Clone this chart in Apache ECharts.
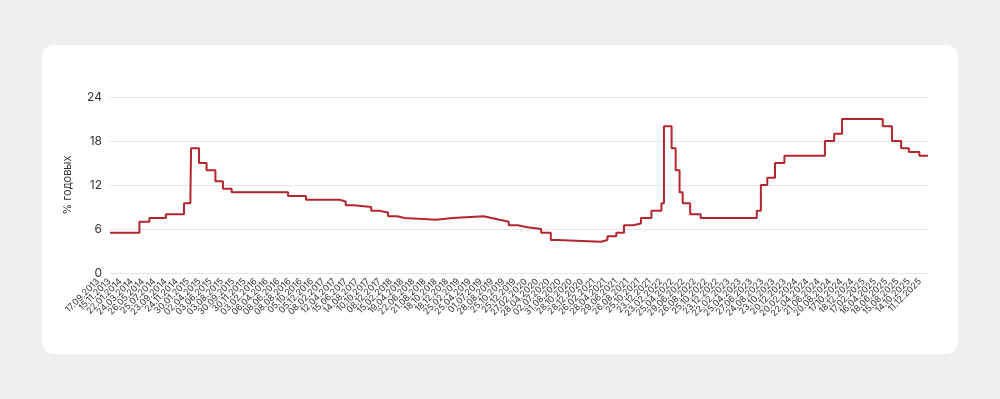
<!DOCTYPE html>
<html>
<head>
<meta charset="utf-8">
<script src="https://cdn.jsdelivr.net/npm/echarts@6/dist/echarts.min.js"></script>
<style>
  html, body { margin:0; padding:0; width:1000px; height:399px; background:#efeff1; overflow:hidden; }
  #card { position:absolute; left:42px; top:45px; width:916px; height:309px; background:#ffffff; border-radius:12px; }
  #chart { position:absolute; left:0; top:0; width:1000px; height:399px; }
</style>
</head>
<body>
<div id="card"></div>
<div id="chart"></div>
<script>
// Tick labels of the x axis (one every ~42 trading days)
const tickLabels = [
  '17.09.2013','15.11.2013','22.01.2014','24.03.2014','26.05.2014','25.07.2014','23.09.2014','24.11.2014',
  '30.01.2015','02.04.2015','03.06.2015','03.08.2015','30.09.2015','30.11.2015','03.02.2016','06.04.2016',
  '08.06.2016','08.08.2016','05.10.2016','05.12.2016','08.02.2017','12.04.2017','15.06.2017','14.08.2017',
  '10.10.2017','08.12.2017','15.02.2018','19.04.2018','22.06.2018','21.08.2018','18.10.2018','18.12.2018',
  '25.02.2019','25.04.2019','01.07.2019','28.08.2019','25.10.2019','25.12.2019','27.02.2020','28.04.2020',
  '02.07.2020','31.08.2020','28.10.2020','28.12.2020','26.02.2021','28.04.2021','29.06.2021','26.08.2021',
  '25.10.2021','23.12.2021','23.02.2022','25.04.2022','29.06.2022','26.08.2022','25.10.2022','23.12.2022',
  '22.02.2023','25.04.2023','27.06.2023','24.08.2023','23.10.2023','20.12.2023','20.02.2024','22.04.2024',
  '21.06.2024','20.08.2024','17.10.2024','18.12.2024','17.02.2025','16.04.2025','18.06.2025','15.08.2025',
  '14.10.2025','11.12.2025'
];
// Position of each rate change, in tick-label units along the x axis
const changePos = [
  0, 2.66, 3.56, 5.05, 6.69, 7.27, 7.33, 8.05, 8.73, 9.53, 10.21, 11.0,
  16.10, 17.72, 20.75, 21.31, 22.07, 23.61, 24.34, 25.14, 25.96, 26.62,
  29.47, 30.98, 33.79, 34.48, 35.21, 36.05, 36.85, 37.73, 38.98, 39.85, 40.42,
  44.39, 44.97, 45.77, 46.47, 47.30, 48.0, 48.95, 49.85, 50.08, 50.77, 51.14,
  51.49, 51.77, 52.45, 53.40, 58.47, 58.84, 59.42, 60.12, 60.97, 64.63, 65.47,
  66.18, 69.86, 70.69, 71.52, 72.22, 73.17, 73.95
];
// Key rate, % per annum, after each change
const rateValues = [
  5.5, 7.0, 7.5, 8.0, 9.5, 10.5, 17.0, 15.0, 14.0, 12.5, 11.5, 11.0,
  10.5, 10.0, 9.75, 9.25, 9.0, 8.5, 8.25, 7.75, 7.5, 7.25,
  7.5, 7.75, 7.5, 7.25, 7.0, 6.5, 6.25, 6.0, 5.5, 4.5, 4.25,
  4.5, 5.0, 5.5, 6.5, 6.75, 7.5, 8.5, 9.5, 20.0, 17.0, 14.0,
  11.0, 9.5, 8.0, 7.5, 8.5, 12.0, 13.0, 15.0, 16.0, 18.0, 19.0,
  21.0, 20.0, 18.0, 17.0, 16.5, 16.0, 16.0
];
const yTicks = [0, 6, 12, 18, 24];
const yName = '% годовых';

const seriesData = changePos.map((p, i) => [p, rateValues[i]]);

const chart = echarts.init(document.getElementById('chart'), null, { renderer: 'canvas' });
chart.setOption({
  backgroundColor: 'transparent',
  animation: false,
  grid: [
    { left: 110, right: 72, top: 97, bottom: 126, containLabel: false },
    { left: 98, right: 80, top: 97, bottom: 126, containLabel: false }
  ],
  xAxis: [{
    gridIndex: 0,
    type: 'value',
    min: 0,
    max: changePos[changePos.length - 1],
    interval: 1,
    axisLine: { show: false },
    axisTick: { show: false },
    splitLine: { show: false },
    axisLabel: { show: false }
  }, {
    gridIndex: 1,
    type: 'category',
    boundaryGap: false,
    data: tickLabels,
    axisLine: { show: false },
    axisTick: { show: false },
    splitLine: { show: false },
    axisLabel: {
      interval: 0,
      rotate: 45,
      fontSize: 9,
      color: '#333',
      fontFamily: 'Inter',
      margin: 7,
      showMinLabel: true,
      showMaxLabel: true
    }
  }],
  yAxis: [{
    gridIndex: 0,
    type: 'value',
    min: yTicks[0],
    max: yTicks[yTicks.length - 1],
    interval: 6,
    name: yName,
    nameLocation: 'middle',
    nameGap: 37,
    nameTextStyle: { fontSize: 11, color: '#333', fontFamily: 'Inter' },
    axisLine: { show: false },
    axisTick: { show: false },
    axisLabel: { fontSize: 12, color: '#333', fontFamily: 'Inter', margin: 8 },
    splitLine: { lineStyle: { color: '#e6e6e6', width: 1 } }
  }, {
    gridIndex: 1,
    type: 'value',
    show: false,
    min: 0,
    max: 24
  }],
  series: [{
    type: 'line',
    xAxisIndex: 0,
    yAxisIndex: 0,
    step: 'end',
    data: seriesData,
    showSymbol: false,
    lineStyle: { color: '#b3262f', width: 2 },
    itemStyle: { color: '#b3262f' }
  }]
});
</script>
</body>
</html>
